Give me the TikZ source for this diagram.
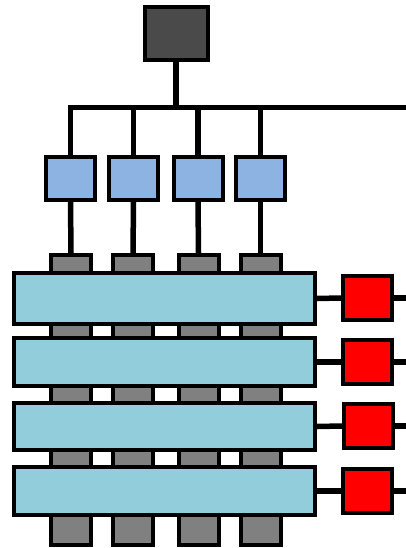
\documentclass[tikz,border=0pt]{standalone}
\usepackage{tikz}
\usetikzlibrary{positioning}

\definecolor{rootgray}{HTML}{4A4A4A}
\definecolor{switchblue}{HTML}{8DB3E2}
\definecolor{barblue}{HTML}{92CDDC}
\definecolor{pingray}{HTML}{808080}

\begin{document}
\begin{tikzpicture}[x=1pt,y=-1pt,
  box/.style={rectangle,draw,line width=4pt,inner sep=0pt},
  root node/.style={box,fill=rootgray,minimum width=63pt,minimum height=53pt},
  switch node/.style={box,fill=switchblue,minimum width=49pt,minimum height=43pt},
  pin node/.style={box,fill=pingray,minimum width=40pt,minimum height=290pt},
  bar node/.style={box,fill=barblue,minimum width=301pt,minimum height=47pt},
  red node/.style={box,fill=red,minimum width=49pt,minimum height=44pt},
  wire/.style={line width=5.5pt}]

    \useasboundingbox (0,0) rectangle (406,548);

	\node[root node] (root) at (176,33.5) {};
    \coordinate (bus) at (176,107.5);
    \coordinate (busend) at (406,107.5);

    \node[switch node] (s1) at (70.5,178.5) {};
    \node[switch node] (s2) at (133.5,178.5) {};
    \node[switch node] (s3) at (198,178.5) {};
    \node[switch node] (s4) at (260.5,178.5) {};

    \node[pin node] (p1) at (71,400) {};
    \node[pin node] (p2) at (133,400) {};
    \node[pin node] (p3) at (198.5,400) {};
    \node[pin node] (p4) at (260.5,400) {};

    \node[bar node,minimum height=51pt] (m1) at (164.5,298.5) {};
    \node[bar node,minimum height=48pt] (m2) at (164.5,362) {};
    \node[bar node] (m3) at (164.5,426.5) {};
    \node[bar node,minimum height=48pt] (m4) at (164.5,491) {};

    \node[red node] (r1) at (367.5,298) {};
    \node[red node] (r2) at (367.5,362) {};
    \node[red node] (r3) at (368.5,426) {};
    \node[red node] (r4) at (367.5,491) {};

    % tree
    \draw[wire] (root.south) -- (bus);
    \draw[wire] (s1.north) |- (busend);
    \draw[wire] (s2.north) -- (s2.north |- bus);
    \draw[wire] (s3.north) -- (s3.north |- bus);
    \draw[wire] (s4.north) -- (s4.north |- bus);
    \draw[wire] (s1.south) -- (p1.north);
    \draw[wire] (s2.south) -- (p2.north);
    \draw[wire] (s3.south) -- (p3.north);
    \draw[wire] (s4.south) -- (p4.north);

    % right side
    \draw[wire] (m1.east) -- (r1.west);
    \draw[wire] (m2.east) -- (r2.west);
    \draw[wire] (m3.east) -- (r3.west);
    \draw[wire] (m4.east) -- (r4.west);
    \draw[wire] (r1.east) -- (r1.east -| busend);
    \draw[wire] (r2.east) -- (r2.east -| busend);
    \draw[wire] (r3.east) -- (r3.east -| busend);
    \draw[wire] (r4.east) -- (r4.east -| busend);

\end{tikzpicture}
\end{document}
